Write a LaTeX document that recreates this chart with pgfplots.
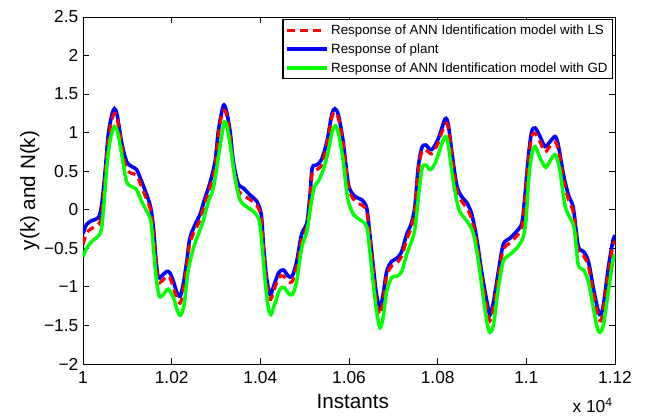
\documentclass[border=0pt]{standalone}
\usepackage{fontspec}
\setmainfont{Liberation Sans}
\usepackage{pgfplots}
\pgfplotsset{compat=1.18}
\definecolor{mred}{RGB}{255,0,0}
\definecolor{mblue}{RGB}{0,0,255}
\definecolor{mgreen}{RGB}{0,255,0}
\begin{document}
\begin{tikzpicture}
\path[use as bounding box] (-62.25pt,-40.5pt) rectangle (422.25pt,273pt);
\begin{axis}[
  scale only axis,
  width=399pt, height=260.25pt,
  xmin=10000, xmax=11200, ymin=-2, ymax=2.5,
  scaled x ticks=false,
  xtick={10000,10200,10400,10600,10800,11000,11200},
  xticklabels={1,1.02,1.04,1.06,1.08,1.1,1.12},
  ytick={-2,-1.5,-1,-0.5,0,0.5,1,1.5,2,2.5},
  yticklabels={−2,−1.5,−1,−0.5,0,0.5,1,1.5,2,2.5},
  tick align=inside,
  major tick length=4.5pt,
  axis line style={line width=0.7pt},
  every tick/.style={black, line width=0.6pt},
  tick label style={font=\fontsize{13}{15}\selectfont},
  xticklabel style={yshift=-2pt},
  xlabel={Instants},
  ylabel={y(k) and N(k)},
  label style={font=\fontsize{15.5}{18}\selectfont},
  xlabel style={at={(axis description cs:0.507,0)}, anchor=base, yshift=-33.5pt},
  ylabel style={at={(axis description cs:0,0.5)}, anchor=center, yshift=40pt},
  legend style={at={(rel axis cs:0.996,0.994)}, anchor=north east,
    font=\fontsize{10}{12}\selectfont, draw=black, line width=0.9pt,
    inner sep=1.5pt, row sep=1.5pt, cells={anchor=west}},
  legend image code/.code={\draw[#1] (0mm,0mm) -- (30pt,0mm);},
  clip mode=individual,
]
\addlegendimage{mred, line width=2.4pt, dash pattern=on 6pt off 4pt}
\addlegendentry{Response of ANN Identification model with LS}
\addlegendimage{mblue, line width=2.6pt}
\addlegendentry{Response of plant}
\addlegendimage{mgreen, line width=2.6pt}
\addlegendentry{Response of ANN Identification model with GD}

% plant (blue)
\addplot[mblue, line width=2.7pt, smooth, forget plot] table {
x y
10000 -0.31
10008 -0.19
10020 -0.14
10035 -0.10
10042 0.06
10050 0.50
10057 0.97
10065 1.23
10071 1.31
10077 1.23
10087 0.88
10098 0.63
10110 0.56
10121 0.52
10132 0.37
10144 0.19
10153 0.02
10159 -0.24
10165 -0.67
10170 -0.88
10177 -0.86
10189 -0.80
10196 -0.82
10204 -0.93
10211 -1.06
10219 -1.12
10226 -0.97
10234 -0.67
10241 -0.37
10253 -0.19
10264 -0.06
10275 0.15
10286 0.34
10298 0.63
10305 1.01
10313 1.27
10318 1.36
10324 1.27
10332 1.01
10339 0.63
10350 0.34
10362 0.28
10377 0.19
10392 0.11
10402 -0.06
10407 -0.45
10414 -0.88
10422 -1.10
10429 -1.01
10441 -0.82
10452 -0.78
10463 -0.86
10472 -0.86
10482 -0.67
10493 -0.32
10505 -0.17
10512 0.19
10517 0.54
10527 0.58
10538 0.65
10550 0.88
10561 1.23
10568 1.31
10576 1.23
10587 0.88
10599 0.32
10614 0.17
10629 0.13
10640 0.02
10647 -0.32
10655 -0.75
10662 -1.10
10670 -1.27
10677 -1.10
10685 -0.80
10696 -0.67
10708 -0.63
10719 -0.54
10730 -0.32
10741 -0.17
10749 0.06
10756 0.54
10764 0.80
10773 0.84
10783 0.78
10790 0.80
10802 0.93
10817 1.18
10824 1.10
10832 0.75
10843 0.32
10854 0.17
10866 0.09
10877 -0.06
10888 -0.37
10899 -0.80
10911 -1.19
10918 -1.36
10926 -1.19
10937 -0.80
10948 -0.45
10963 -0.37
10978 -0.28
10990 -0.17
10997 0.19
11005 0.71
11012 1.01
11020 1.06
11031 0.95
11042 0.82
11053 0.88
11065 0.95
11072 0.84
11084 0.45
11095 0.19
11106 0.02
11117 -0.47
11129 -0.54
11140 -0.67
11151 -1.01
11162 -1.31
11168 -1.36
11174 -1.23
11185 -0.75
11195 -0.41
11200 -0.33
};

% LS model (red dashed)
\addplot[mred, line width=2.4pt, dash pattern=on 6pt off 4pt, smooth, forget plot] table {
x y
10000 -0.45
10008 -0.30
10020 -0.24
10035 -0.19
10042 -0.06
10050 0.45
10057 0.91
10065 1.16
10071 1.25
10077 1.19
10087 0.84
10098 0.54
10110 0.47
10121 0.45
10132 0.30
10144 0.13
10153 -0.02
10159 -0.28
10165 -0.71
10170 -0.93
10177 -0.93
10189 -0.86
10196 -0.88
10204 -1.01
10211 -1.14
10219 -1.21
10226 -1.06
10234 -0.73
10241 -0.43
10253 -0.26
10264 -0.13
10275 0.09
10286 0.28
10298 0.56
10305 0.97
10313 1.23
10318 1.29
10324 1.23
10332 0.95
10339 0.56
10350 0.26
10362 0.19
10377 0.13
10392 0.06
10402 -0.11
10407 -0.50
10414 -0.95
10422 -1.16
10429 -1.08
10441 -0.88
10452 -0.86
10463 -0.93
10472 -0.93
10482 -0.73
10493 -0.39
10505 -0.22
10512 0.13
10517 0.47
10527 0.52
10538 0.58
10550 0.84
10561 1.19
10568 1.27
10576 1.19
10587 0.84
10599 0.28
10614 0.11
10629 0.06
10640 -0.02
10647 -0.37
10655 -0.82
10662 -1.19
10670 -1.36
10677 -1.19
10685 -0.86
10696 -0.73
10708 -0.69
10719 -0.60
10730 -0.39
10741 -0.22
10749 0.02
10756 0.50
10764 0.75
10773 0.78
10783 0.73
10790 0.74
10802 0.88
10817 1.12
10824 1.06
10832 0.71
10843 0.26
10854 0.11
10866 0.02
10877 -0.13
10888 -0.43
10899 -0.86
10911 -1.27
10918 -1.44
10926 -1.27
10937 -0.86
10948 -0.52
10963 -0.43
10978 -0.34
10990 -0.24
10997 0.13
11005 0.65
11012 0.95
11020 0.99
11031 0.88
11042 0.75
11053 0.82
11065 0.88
11072 0.78
11084 0.39
11095 0.13
11106 -0.04
11117 -0.54
11129 -0.60
11140 -0.73
11151 -1.08
11162 -1.38
11168 -1.44
11174 -1.29
11185 -0.82
11195 -0.47
11200 -0.41
};

% GD model (green)
\addplot[mgreen, line width=2.6pt, smooth, forget plot] table {
x y
10000 -0.61
10008 -0.50
10020 -0.41
10035 -0.34
10042 -0.24
10047 0.06
10055 0.63
10062 0.93
10071 1.08
10078 1.01
10087 0.73
10098 0.37
10110 0.30
10121 0.26
10132 0.11
10144 -0.02
10153 -0.15
10159 -0.50
10165 -0.88
10172 -1.12
10181 -1.10
10192 -1.03
10204 -1.14
10213 -1.31
10220 -1.37
10228 -1.23
10237 -0.80
10249 -0.50
10260 -0.32
10271 -0.15
10283 0.11
10294 0.28
10305 0.67
10313 0.97
10319 1.14
10325 1.08
10333 0.80
10343 0.41
10354 0.13
10369 0.04
10384 -0.02
10397 -0.13
10403 -0.41
10411 -0.93
10418 -1.27
10424 -1.36
10432 -1.23
10444 -1.03
10454 -1.01
10463 -1.08
10472 -1.10
10482 -0.93
10493 -0.50
10505 -0.28
10514 0.06
10522 0.30
10531 0.37
10542 0.52
10553 0.75
10562 1.01
10570 1.09
10577 0.97
10587 0.63
10597 0.15
10610 -0.06
10625 -0.13
10640 -0.22
10647 -0.54
10655 -0.97
10662 -1.31
10670 -1.53
10677 -1.40
10685 -1.06
10696 -0.88
10708 -0.86
10719 -0.80
10730 -0.58
10741 -0.41
10749 -0.24
10758 0.24
10765 0.54
10773 0.58
10783 0.52
10794 0.60
10805 0.78
10817 0.95
10824 0.84
10835 0.37
10847 0.02
10858 -0.09
10869 -0.17
10881 -0.32
10892 -0.67
10903 -1.14
10912 -1.49
10918 -1.59
10926 -1.49
10937 -1.01
10948 -0.67
10963 -0.58
10978 -0.50
10992 -0.37
10999 -0.15
11005 0.37
11012 0.71
11020 0.82
11031 0.67
11044 0.55
11055 0.65
11066 0.71
11076 0.50
11087 0.06
11099 -0.11
11108 -0.24
11117 -0.71
11129 -0.78
11140 -0.93
11151 -1.27
11160 -1.53
11166 -1.59
11174 -1.49
11185 -1.06
11195 -0.67
11200 -0.58
};

\node[font=\fontsize{13}{15}\selectfont, anchor=base] at (rel axis cs:0.958,0) [yshift=-36.5pt] {x 10\textsuperscript{4}};
\end{axis}
\end{tikzpicture}
\end{document}
